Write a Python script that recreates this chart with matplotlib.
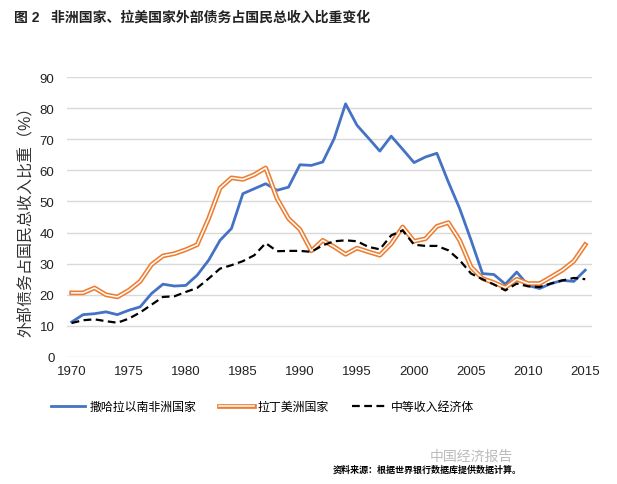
import matplotlib.pyplot as plt

plt.rcParams['font.family'] = ['Liberation Sans', 'Noto Sans CJK SC']

# data
years = list(range(1970, 2016))
africa = [11.25, 13.6, 13.9, 14.5, 13.6, 15.0, 16.1, 20.4, 23.4, 22.8,
          23.0, 26.3, 31.1, 37.5, 41.3, 52.5, 54.1, 55.7, 53.6, 54.6,
          61.8, 61.6, 62.7, 70.2, 81.4, 74.5, 70.4, 66.2, 71.0, 66.8,
          62.5, 64.3, 65.5, 56.3, 47.7, 37.5, 26.8, 26.5, 23.4, 27.3,
          23.0, 22.0, 23.6, 24.6, 24.3, 27.9]
latam = [20.6, 20.6, 22.2, 20.0, 19.3, 21.4, 24.3, 29.7, 32.5, 33.2,
         34.5, 36.1, 44.5, 54.3, 57.6, 57.1, 58.6, 60.8, 50.9, 44.5,
         41.0, 34.1, 37.5, 35.4, 33.0, 35.0, 33.8, 32.7, 36.4, 41.8,
         37.2, 38.0, 42.0, 43.2, 37.5, 28.9, 25.2, 23.9, 22.3, 25.0,
         23.6, 23.6, 25.7, 27.9, 30.8, 36.1]
middle = [10.9, 11.8, 12.1, 11.5, 11.0, 12.3, 14.3, 16.8, 19.3, 19.5,
          20.9, 22.2, 25.2, 28.4, 29.5, 30.8, 32.7, 36.6, 34.0, 34.1,
          34.1, 33.8, 35.9, 37.2, 37.5, 37.2, 35.4, 34.6, 39.1, 40.7,
          36.1, 35.7, 35.7, 34.3, 31.1, 26.8, 25.0, 23.3, 21.4, 23.6,
          22.7, 22.5, 23.6, 24.6, 25.4, 25.0]
names = ['撒哈拉以南非洲国家', '拉丁美洲国家', '中等收入经济体']

fig = plt.figure(figsize=(6.17, 4.85), dpi=100)
ax = fig.add_axes([0.1086, 0.262, 0.851, 0.577])

l1, = ax.plot(years, africa, color='#4472C4', lw=2.0)
l2, = ax.plot(years, latam, color='#ED7D31', lw=3.4)
l2w, = ax.plot(years, latam, color='white', lw=1.1)
l3, = ax.plot(years, middle, color='black', lw=1.6, ls=(0, (3.5, 2)))

ax.set_xlim(1969.59, 2015.6)
ax.set_ylim(0, 90)
ax.set_xticks(range(1970, 2016, 5))
ax.set_yticks(range(0, 91, 10))
ax.tick_params(length=0, labelsize=9.5, colors='#222222')
ax.tick_params(axis='x', pad=6)
ax.tick_params(axis='y', pad=9)
ax.grid(axis='y', color='#D9D9D9', lw=1)
ax.set_axisbelow(True)
for s in ax.spines.values():
    s.set_visible(False)
ax.set_ylabel('外部债务占国民总收入比重（%）', fontsize=11.5, labelpad=4,
              fontweight='light', color='#333333')

fig.legend([l1, (l2, l2w), l3], names, loc='center', bbox_to_anchor=(0.425, 0.159),
           ncol=3, frameon=False, fontsize=8.6, handlelength=2.9,
           columnspacing=1.9, handletextpad=0.35)

fig.text(0.022, 0.963, '图 2   非洲国家、拉美国家外部债务占国民总收入比重变化',
         fontsize=10, fontweight='bold', va='center', color='#222222')
fig.text(0.697, 0.058, '中国经济报告', fontsize=10, color='#BBBBBB', va='center')
fig.text(0.54, 0.030, '资料来源：根据世界银行数据库提供数据计算。',
         fontsize=6.5, fontweight='bold', va='center')

fig.savefig('out.png', dpi=100)
